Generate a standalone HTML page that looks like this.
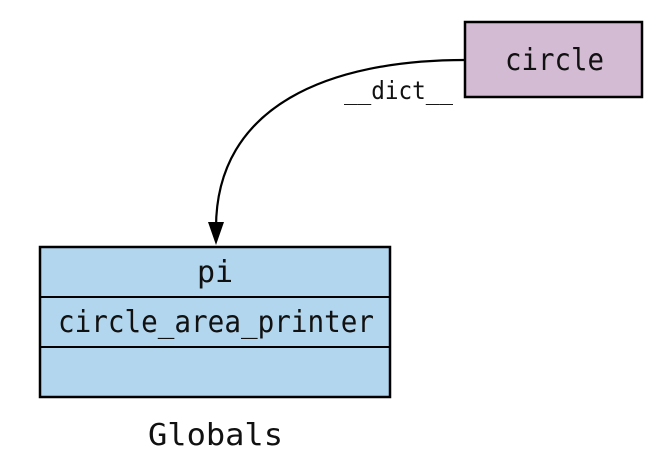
<!DOCTYPE html>
<html><head><style>
html,body{margin:0;padding:0;background:#fff;}
svg{display:block;}
text{font-family:"DejaVu Sans Mono","Liberation Mono",monospace;fill:#111;}
</style></head><body>
<svg width="671" height="469" viewBox="0 0 671 469">
<rect x="465" y="22" width="177" height="75" fill="#d3bbd3" stroke="#000" stroke-width="2.5"/>
<text x="505" y="70" font-size="30" textLength="99" lengthAdjust="spacingAndGlyphs">circle</text>
<path d="M465,60 C330,60 216,105 216,228" fill="none" stroke="#000" stroke-width="2.2"/>
<polygon points="208,222 224,222 216,245" fill="#000"/>
<text x="344" y="99" font-size="25" textLength="109" lengthAdjust="spacingAndGlyphs">__dict__</text>
<rect x="40" y="247" width="350" height="150" fill="#b3d6ef" stroke="#000" stroke-width="2.5"/>
<line x1="40" y1="297" x2="390" y2="297" stroke="#000" stroke-width="2"/>
<line x1="40" y1="347" x2="390" y2="347" stroke="#000" stroke-width="2"/>
<text x="215" y="282" font-size="30" text-anchor="middle">pi</text>
<text x="58" y="332" font-size="30" textLength="316" lengthAdjust="spacingAndGlyphs">circle_area_printer</text>
<text x="148" y="445" font-size="30" textLength="135" lengthAdjust="spacingAndGlyphs">Globals</text>
</svg>
</body></html>
